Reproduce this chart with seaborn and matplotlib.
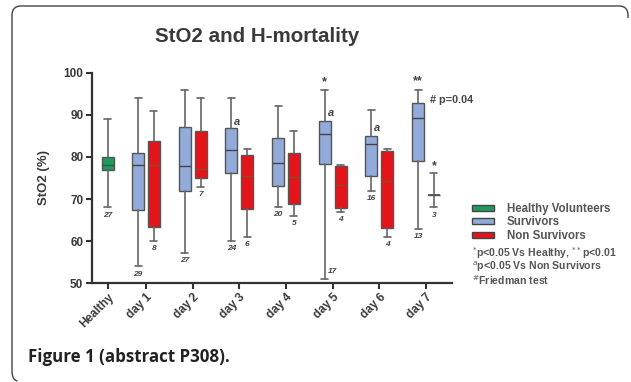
import numpy as np
import matplotlib
matplotlib.use("Agg")
import matplotlib.pyplot as plt
import seaborn as sns
from matplotlib.patches import Patch
from matplotlib.path import Path
from matplotlib.patches import PathPatch

# ---- data ----
categories = ["Healthy", "day 1", "day 2", "day 3", "day 4", "day 5", "day 6", "day 7"]
healthy = dict(whislo=68.0, q1=77.0, med=78.0, q3=80.0, whishi=89.0, n=27)
surv_lo  = [54.0, 57.2, 60.0, 68.2, 51.0, 72.0, 63.0]
surv_q1  = [67.4, 72.0, 76.1, 73.2, 78.3, 75.5, 79.1]
surv_med = [78.0, 77.9, 81.6, 78.6, 85.4, 83.1, 89.2]
surv_q3  = [81.0, 87.2, 86.8, 84.6, 88.5, 85.0, 92.7]
surv_hi  = [94.0, 96.0, 94.1, 92.2, 96.0, 91.1, 96.0]
surv_n   = [29, 27, 24, 20, 17, 16, 13]
non_lo   = [60.0, 72.9, 61.0, 66.0, 67.0, 61.0, 68.0]
non_q1   = [63.4, 75.1, 67.6, 68.8, 67.9, 63.2, 71.0]
non_med  = [78.0, 77.1, 75.5, 75.2, 73.3, 74.4, 71.0]
non_q3   = [83.8, 86.2, 80.4, 81.0, 77.8, 81.4, 71.0]
non_hi   = [91.0, 94.0, 82.0, 86.2, 78.2, 82.0, 76.1]
non_n    = [8, 7, 6, 5, 4, 4, 3]
series_names = ["Healthy Volunteers", "Survivors", "Non Survivors"]
colors = ["#1e9a5c", "#93abdb", "#e4141b"]

sns.set_theme(style="ticks")
plt.rcParams["font.family"] = ["Liberation Sans", "DejaVu Sans"]

fig = plt.figure(figsize=(6.31, 3.82), dpi=100)
ax = fig.add_axes([0.1453, 0.2584, 0.5705, 0.5513])

day_pos = np.arange(1, 8)
healthy_pos = 0.186
off = 0.17
bw = 0.26
cw = 0.15

def stats(lo, q1, med, q3, hi):
    return dict(whislo=lo, q1=q1, med=med, q3=q3, whishi=hi, fliers=[])

edge = "#555555"
common = dict(showfliers=False, patch_artist=True, widths=bw, capwidths=cw,
              whiskerprops=dict(color="#666666", lw=1.2),
              capprops=dict(color="#666666", lw=1.2))

# healthy
ax.bxp([stats(healthy["whislo"], healthy["q1"], healthy["med"], healthy["q3"], healthy["whishi"])],
       positions=[healthy_pos],
       boxprops=dict(facecolor=colors[0], edgecolor=edge, lw=1.0),
       medianprops=dict(color="#2c5f40", lw=1.0), **common)
# survivors
ax.bxp([stats(*v) for v in zip(surv_lo, surv_q1, surv_med, surv_q3, surv_hi)],
       positions=day_pos - off,
       boxprops=dict(facecolor=colors[1], edgecolor=edge, lw=1.0),
       medianprops=dict(color="#444444", lw=1.0), **common)
# non survivors
nb = ax.bxp([stats(*v) for v in zip(non_lo, non_q1, non_med, non_q3, non_hi)],
            positions=day_pos + off,
            boxprops=dict(facecolor=colors[2], edgecolor=edge, lw=1.0),
            medianprops=dict(color="#8a4a2a", lw=1.0), **common)
# degenerate box (n=3) drawn as a gray line
nb["medians"][-1].set_color("#555555")
nb["medians"][-1].set_linewidth(1.3)

ax.set_xlim(-0.163, 7.55)
ax.set_ylim(50, 100)
ax.set_yticks([50, 60, 70, 80, 90, 100])
ax.set_xticks([healthy_pos] + list(day_pos))
ax.set_xticklabels(categories, rotation=45, ha="right", rotation_mode="anchor")
tc = "#3a3a3a"
for lab in ax.get_xticklabels() + ax.get_yticklabels():
    lab.set_fontweight("bold")
    lab.set_fontsize(8.5)
    lab.set_color(tc)
ax.tick_params(axis="both", direction="out", length=4, width=1.5, color="#333333", pad=2)
for s in ["left", "bottom"]:
    ax.spines[s].set_linewidth(1.6)
    ax.spines[s].set_color("#333333")
sns.despine(ax=ax)
ax.set_ylabel("StO2 (%)", fontsize=9.5, fontweight="bold", color=tc, labelpad=10)

# n labels
nkw = dict(textcoords="offset points", fontsize=6, fontstyle="italic",
           fontweight="bold", color="#444444", ha="center", va="top")
ax.annotate(str(healthy["n"]), (healthy_pos, healthy["whislo"]), xytext=(0, -3), **nkw)
for i in range(7):
    if i == 4:
        ax.annotate(str(surv_n[i]), (day_pos[i] - off, surv_lo[i]), xytext=(2, 8),
                    **{**nkw, "ha": "left"})
    else:
        ax.annotate(str(surv_n[i]), (day_pos[i] - off, surv_lo[i]), xytext=(0, -3), **nkw)
    ax.annotate(str(non_n[i]), (day_pos[i] + off, non_lo[i]), xytext=(0, -3), **nkw)

# significance marks
akw = dict(fontsize=8, fontstyle="italic", fontweight="bold", color="#444444")
ax.text(3 - off + 0.06, 88.4, "a", ha="left", va="center", **akw)
ax.text(5 - off + 0.06, 90.5, "a", ha="left", va="center", **akw)
ax.text(6 - off + 0.06, 86.8, "a", ha="left", va="center", **akw)
skw = dict(fontsize=9, fontweight="bold", color="#444444", ha="center", va="center")
ax.text(5 - off, 97.8, "*", **skw)
ax.text(7 - off, 97.9, "**", **skw)
ax.text(7 + off, 77.9, "*", **skw)
ax.text(7.085, 93.5, "# p=0.04", fontsize=7.8, fontweight="bold", color="#444444",
        ha="left", va="center")

# title
fig.text(0.408, 0.905, "StO2 and H-mortality", fontsize=14.8, fontweight="bold",
         color="#3a3a3a", ha="center", va="center")

# legend
handles = [Patch(facecolor=c, edgecolor="#444444", lw=1.0) for c in colors]
leg = fig.legend(handles, series_names, loc="upper left",
                 bbox_to_anchor=(472 / 631, 1 - 203 / 382), frameon=False,
                 fontsize=8.3, handlelength=1.9, handleheight=0.45, labelspacing=0.12,
                 handletextpad=1.1, borderpad=0.0, borderaxespad=0.0)
for t in leg.get_texts():
    t.set_fontweight("bold")
    t.set_color("#555555")

fkw = dict(fontsize=7.6, fontweight="bold", color="#555555", ha="left", va="center")
fig.text(472 / 631, 1 - 253 / 382, r"$^{*}$p<0.05 Vs Healthy, $^{**}$p<0.01", **fkw)
fig.text(472 / 631, 1 - 267 / 382, r"$^{a}$p<0.05 Vs Non Survivors", **fkw)
fig.text(472 / 631, 1 - 280 / 382, r"$^{\#}$Friedman test", **fkw)

# caption
fig.text(28 / 631, 1 - 357 / 382, "Figure 1 (abstract P308).", fontsize=12.2,
         fontweight="bold", color="#222222", ha="left", va="center",
         family=["Open Sans", "DejaVu Sans"])

# frame (rounded, left and top)
W, H = 631, 382
r = 9
verts = [(628, 18), (628, 6 + r), (628, 6), (628 - r, 6),
         (12 + r, 6), (12, 6), (12, 6 + r),
         (12, 380 - r), (12, 380), (12 + r * 0.6, 381)]
codes = [Path.MOVETO, Path.LINETO, Path.CURVE3, Path.CURVE3,
         Path.LINETO, Path.CURVE3, Path.CURVE3,
         Path.LINETO, Path.CURVE3, Path.CURVE3]
verts = [(x / W, 1 - y / H) for x, y in verts]
fig.patches.append(PathPatch(Path(verts, codes), transform=fig.transFigure,
                             fill=False, edgecolor="#444444", lw=1.0))

fig.savefig("out.png", dpi=100, facecolor="white")
